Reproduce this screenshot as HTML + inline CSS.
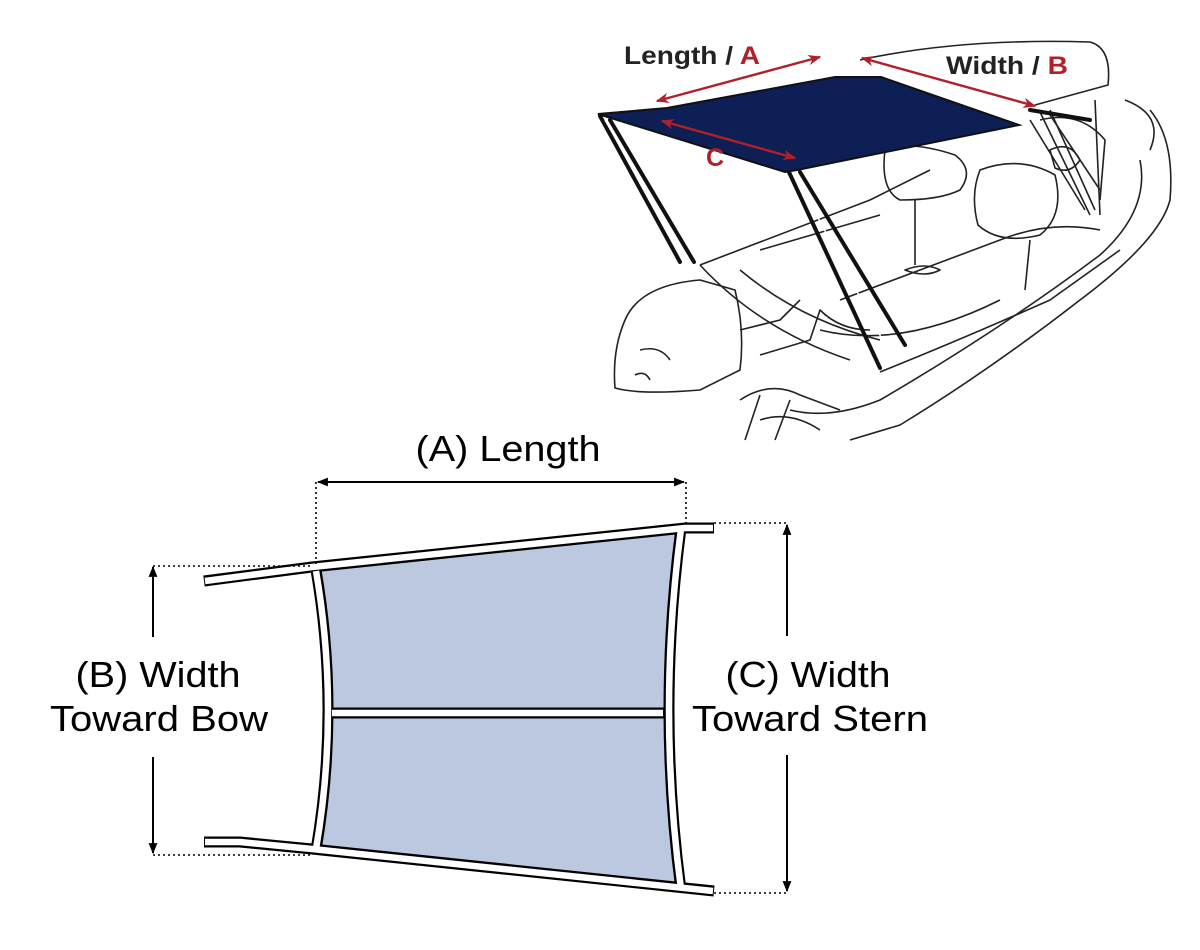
<!DOCTYPE html>
<html><head><meta charset="utf-8"><style>
html,body{margin:0;padding:0;background:#fff;}
svg{display:block;}
text{font-family:"Liberation Sans",sans-serif;}
</style></head><body>
<svg width="1200" height="950" viewBox="0 0 1200 950" xmlns="http://www.w3.org/2000/svg">
<defs>
<marker id="ah" viewBox="0 0 10 10" refX="9" refY="5" markerWidth="11" markerHeight="11" orient="auto-start-reverse" markerUnits="userSpaceOnUse"><path d="M0,1 L10,5 L0,9 Z" fill="#000"/></marker>
<marker id="rh" viewBox="0 0 10 10" refX="9" refY="5" markerWidth="13" markerHeight="13" orient="auto-start-reverse" markerUnits="userSpaceOnUse"><path d="M0,1 L10,5 L0,9 L3,5 Z" fill="#b0202a"/></marker>
</defs>

<!-- Boat sketch -->
<g fill="none" stroke="#222" stroke-width="1.6" stroke-linejoin="round">
  <path d="M860,60 Q960,38 1090,42 Q1112,48 1108,85 L1035,105"/>
  <path d="M1150,110 Q1175,140 1170,200 Q1160,240 1080,300 Q990,370 900,425 L850,440"/>
  <path d="M1140,160 Q1150,210 1100,255 Q1000,330 880,400 Q830,420 790,410"/>
  <path d="M1125,100 Q1165,115 1150,150"/>
  <path d="M700,265 L870,200 L930,170 M700,265 Q760,330 850,360 M760,250 L880,215 M740,270 Q800,320 880,340"/>
  <path d="M840,300 L1000,240 Q1050,220 1100,230 M820,330 Q900,350 1000,300"/>
  <path d="M880,372 Q960,340 1050,300 L1120,250"/>
  <path d="M885,150 Q910,140 955,155 Q975,170 960,190 Q940,200 900,200 Q880,190 885,150 Z"/>
  <path d="M915,200 L915,265 M905,270 Q925,262 940,270 Q925,278 905,270 Z"/>
  <path d="M980,170 Q1020,155 1055,175 Q1065,215 1040,235 Q1000,245 978,225 Q970,195 980,170 Z"/>
  <path d="M1030,240 L1025,290"/>
  <path d="M1040,120 Q1080,110 1105,140 L1100,200 M1050,150 Q1070,140 1080,160 Q1070,175 1055,168 Z"/>
  <path d="M1030,120 L1085,210 M1050,115 L1100,190 M1095,100 L1100,215"/>
  <path d="M625,320 Q640,285 700,280 L735,290 Q745,330 740,370 L700,390 Q640,395 615,388 Q612,350 625,320 Z"/>
  <path d="M640,350 Q660,345 670,360 M635,375 Q645,370 650,380"/>
  <path d="M740,330 L780,320 L800,300 M760,355 L810,340 L820,310 Q840,330 870,330"/>
  <path d="M740,400 Q770,380 800,395 L840,410 M760,420 Q790,410 820,430 M745,440 L760,395 M775,440 L790,400"/>
  <path d="M1040,112 L1090,215 M1050,110 L1095,210"/>
</g>
<g stroke="#111" stroke-width="4" stroke-linecap="round">
  <path d="M600,116 L680,262"/><path d="M610,120 L694,262"/>
  <path d="M788,170 L880,368"/><path d="M800,172 L905,345"/>
  <path d="M1030,110 L1090,120"/>
</g>
<g stroke="#fff" stroke-width="1.5">
  <path d="M605,120 L688,262"/><path d="M794,172 L892,358"/>
</g>
<path d="M598,114 L667,108 L835,77 L881,77 L1019,125 L797,170 L785,172 Z" fill="#0d1f54" stroke="#111" stroke-width="2"/>
<g stroke="#b0202a" stroke-width="2.4" fill="none">
  <path d="M657,101 L820,57" marker-start="url(#rh)" marker-end="url(#rh)"/>
  <path d="M862,58 L1035,106" marker-start="url(#rh)" marker-end="url(#rh)"/>
  <path d="M662,121 L795,158" marker-start="url(#rh)" marker-end="url(#rh)"/>
</g>
<g font-size="25" font-weight="bold" fill="#222">
<text x="624" y="64" textLength="136" lengthAdjust="spacingAndGlyphs">Length / <tspan fill="#b0202a">A</tspan></text>
<text x="946" y="74" textLength="122" lengthAdjust="spacingAndGlyphs">Width / <tspan fill="#b0202a">B</tspan></text>
<text x="706" y="166" fill="#b0202a">C</text>
</g>

<!-- Bottom diagram -->
<path d="M312,572 L684,528 Q660,710 684,890 L312,848 Q338,710 312,572 Z" fill="#bbc8df"/>
<g fill="none" stroke-linecap="butt" stroke-linejoin="miter">
  <g stroke="#000" stroke-width="11">
    <path d="M204,581 L312,567 L685,528 L714,528"/>
    <path d="M204,842 L240,842 L312,849 L714,891"/>
    <path d="M316,570 Q340,710 316,850"/>
    <path d="M681,528 Q657,710 681,890"/>
    <path d="M330,713 L665,713"/>
  </g>
  <g stroke="#fff" stroke-width="6.5">
    <path d="M205,581 L312,567 L685,528 L713,528"/>
    <path d="M205,842 L240,842 L312,849 L713,891"/>
    <path d="M316,571 Q340,710 316,849"/>
    <path d="M681,529 Q657,710 681,889"/>
    <path d="M332,713 L663,713"/>
  </g>
</g>
<g stroke="#000" stroke-width="1.6" stroke-dasharray="2,3" fill="none">
  <path d="M316,482 L316,567"/>
  <path d="M686,482 L686,523"/>
  <path d="M153,566 L310,566"/>
  <path d="M153,855 L310,855"/>
  <path d="M714,523 L787,523"/>
  <path d="M714,893 L787,893"/>
</g>
<g stroke="#000" stroke-width="2" fill="none">
  <path d="M318,482 L684,482" marker-start="url(#ah)" marker-end="url(#ah)"/>
  <path d="M153,567 L153,637" marker-start="url(#ah)"/>
  <path d="M153,757 L153,853" marker-end="url(#ah)"/>
  <path d="M787,525 L787,636" marker-start="url(#ah)"/>
  <path d="M787,755 L787,891" marker-end="url(#ah)"/>
</g>
<g font-size="36" fill="#000" text-anchor="middle">
  <text x="508" y="461" textLength="185" lengthAdjust="spacingAndGlyphs">(A) Length</text>
  <text x="158" y="687" textLength="165" lengthAdjust="spacingAndGlyphs">(B) Width</text>
  <text x="159" y="731" textLength="218" lengthAdjust="spacingAndGlyphs">Toward Bow</text>
  <text x="808" y="687" textLength="165" lengthAdjust="spacingAndGlyphs">(C) Width</text>
  <text x="810" y="731" textLength="236" lengthAdjust="spacingAndGlyphs">Toward Stern</text>
</g>
</svg>
</body></html>
